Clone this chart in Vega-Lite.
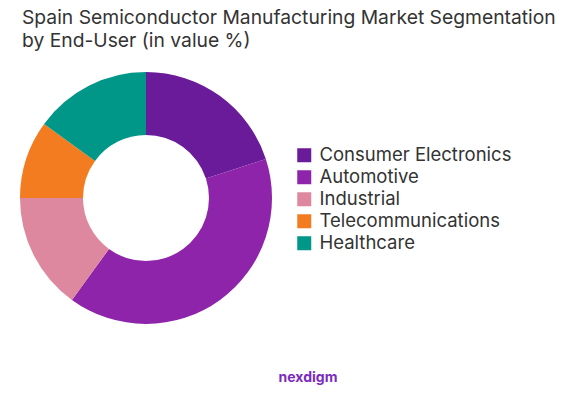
{
  "$schema": "https://vega.github.io/schema/vega-lite/v6.json",
  "autosize": {"type": "pad"},
  "padding": {"left": 19, "top": 8, "right": 0, "bottom": 0},
  "background": "white",
  "config": {"view": {"stroke": null}, "font": "Inter"},
  "title": {
    "text": ["Spain Semiconductor Manufacturing Market Segmentation", "by End-User (in value %)"],
    "anchor": "start",
    "frame": "group",
    "fontSize": 19.3,
    "font": "Inter",
    "fontWeight": "normal",
    "color": "#333333",
    "lineHeight": 23,
    "dx": 3,
    "offset": 20
  },
  "spacing": 43,
  "vconcat": [
    {
      "width": 254,
      "height": 254,
      "data": {
        "values": [
          {"segment": "Consumer Electronics", "share": 20, "rank": 1},
          {"segment": "Automotive", "share": 40, "rank": 2},
          {"segment": "Industrial", "share": 15, "rank": 3},
          {"segment": "Telecommunications", "share": 10, "rank": 4},
          {"segment": "Healthcare", "share": 15, "rank": 5}
        ]
      },
      "mark": {"type": "arc", "innerRadius": 63, "outerRadius": 126},
      "encoding": {
        "theta": {"field": "share", "type": "quantitative", "stack": true},
        "order": {"field": "rank", "type": "quantitative"},
        "color": {
          "field": "segment",
          "type": "nominal",
          "scale": {
            "domain": ["Consumer Electronics", "Automotive", "Industrial", "Telecommunications", "Healthcare"],
            "range": ["#6A1B9A", "#8E24AA", "#DE889F", "#F47C20", "#009688"]
          },
          "legend": {
            "title": null,
            "orient": "none",
            "legendX": 276,
            "legendY": 75,
            "symbolType": "square",
            "symbolSize": 196,
            "symbolStrokeWidth": 0,
            "labelFontSize": 18.5,
            "labelColor": "#333333",
            "labelFont": "Inter",
            "labelLimit": 320,
            "rowPadding": 3,
            "labelOffset": 6
          }
        }
      }
    },
    {
      "width": 538,
      "height": 20,
      "data": {"values": [{"brand": "nexdigm"}]},
      "mark": {"type": "text", "fontSize": 14, "fontWeight": "bold", "color": "#7B2CBF", "dx": 20, "font": "Inter"},
      "encoding": {"text": {"field": "brand"}}
    }
  ]
}
